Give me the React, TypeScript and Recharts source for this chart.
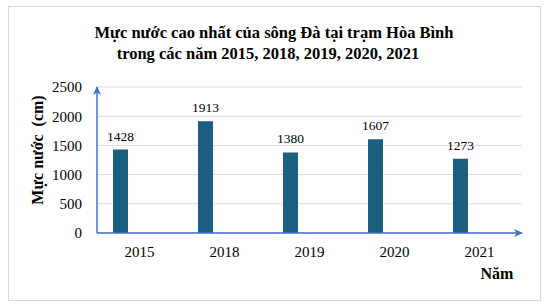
import React from 'react';
import { BarChart, Bar, XAxis, YAxis, CartesianGrid, LabelList, Customized } from 'recharts';

const years = ['2015', '2018', '2019', '2020', '2021'];
const waterLevels = [1428, 1913, 1380, 1607, 1273];
const emptySeries = [null, null, null, null, null];
const yTicks = [0, 500, 1000, 1500, 2000, 2500];
const titleLines = ['Mực nước cao nhất của sông Đà tại trạm Hòa Bình', 'trong các năm 2015, 2018, 2019, 2020, 2021'];
const yAxisTitle = 'Mực nước  (cm)';
const xAxisTitle = 'Năm';

const data = years.map((y, i) => ({ year: y, level: waterLevels[i], blank: emptySeries[i] }));

const W = 560;
const H = 306;
const margin = { top: 87, right: 38, bottom: 43, left: 47 };
const FONT = '"Liberation Serif", "Times New Roman", serif';
const AXIS = '#4472C4';

const Decorations = () => (
  <g>
    <defs>
      <marker id="arrowHead" markerWidth="9" markerHeight="8" refX="8" refY="4" orient="auto-start-reverse" markerUnits="userSpaceOnUse">
        <path d="M0,0 L9,4 L0,8 L2.5,4 Z" fill={AXIS} />
      </marker>
    </defs>
    <rect x={8.5} y={6.5} width={532} height={294} fill="none" stroke="#D9D9D9" strokeWidth={1} />
    <text x={274} y={38} textAnchor="middle" fontFamily={FONT} fontWeight="bold" fontSize={16.5} fill="#000">{titleLines[0]}</text>
    <text x={268} y={59} textAnchor="middle" fontFamily={FONT} fontWeight="bold" fontSize={16.5} fill="#000">{titleLines[1]}</text>
    <text x={43} y={150} transform="rotate(-90 43 150)" textAnchor="middle" fontFamily={FONT} fontWeight="bold" fontSize={16} fill="#000" style={{ whiteSpace: 'pre' }}>{yAxisTitle}</text>
    <text x={497} y={279} textAnchor="middle" fontFamily={FONT} fontWeight="bold" fontSize={16} fill="#000">{xAxisTitle}</text>
  </g>
);

export default function App() {
  return (
    <div style={{ position: 'absolute', left: 0, top: 0, width: W, height: H, background: '#fff' }}>
      <BarChart width={W} height={H} data={data} margin={margin} barGap={23} barCategoryGap={0}>
        <Customized component={Decorations} />
        <CartesianGrid vertical={false} stroke="#D9D9D9" />
        <XAxis
          dataKey="year"
          height={30}
          tickLine={false}
          tickSize={0}
          tickMargin={13}
          axisLine={{ stroke: AXIS, strokeWidth: 1.5, markerEnd: 'url(#arrowHead)' }}
          tick={{ fontFamily: FONT, fontSize: 15, fill: '#000' }}
        />
        <YAxis
          width={50}
          domain={[0, 2500]}
          ticks={yTicks}
          tickLine={false}
          tickSize={0}
          tickMargin={15}
          axisLine={{ stroke: AXIS, strokeWidth: 1.5, markerStart: 'url(#arrowHead)' }}
          tick={{ fontFamily: FONT, fontSize: 15, fill: '#000' }}
        />
        <Bar dataKey="level" fill="#1B5E80" barSize={15} isAnimationActive={false}>
          <LabelList dataKey="level" position="top" offset={9} style={{ fontFamily: FONT, fontSize: 13.5, fill: '#000' }} />
        </Bar>
        <Bar dataKey="blank" fill="#1B5E80" barSize={15} isAnimationActive={false} />
      </BarChart>
    </div>
  );
}
